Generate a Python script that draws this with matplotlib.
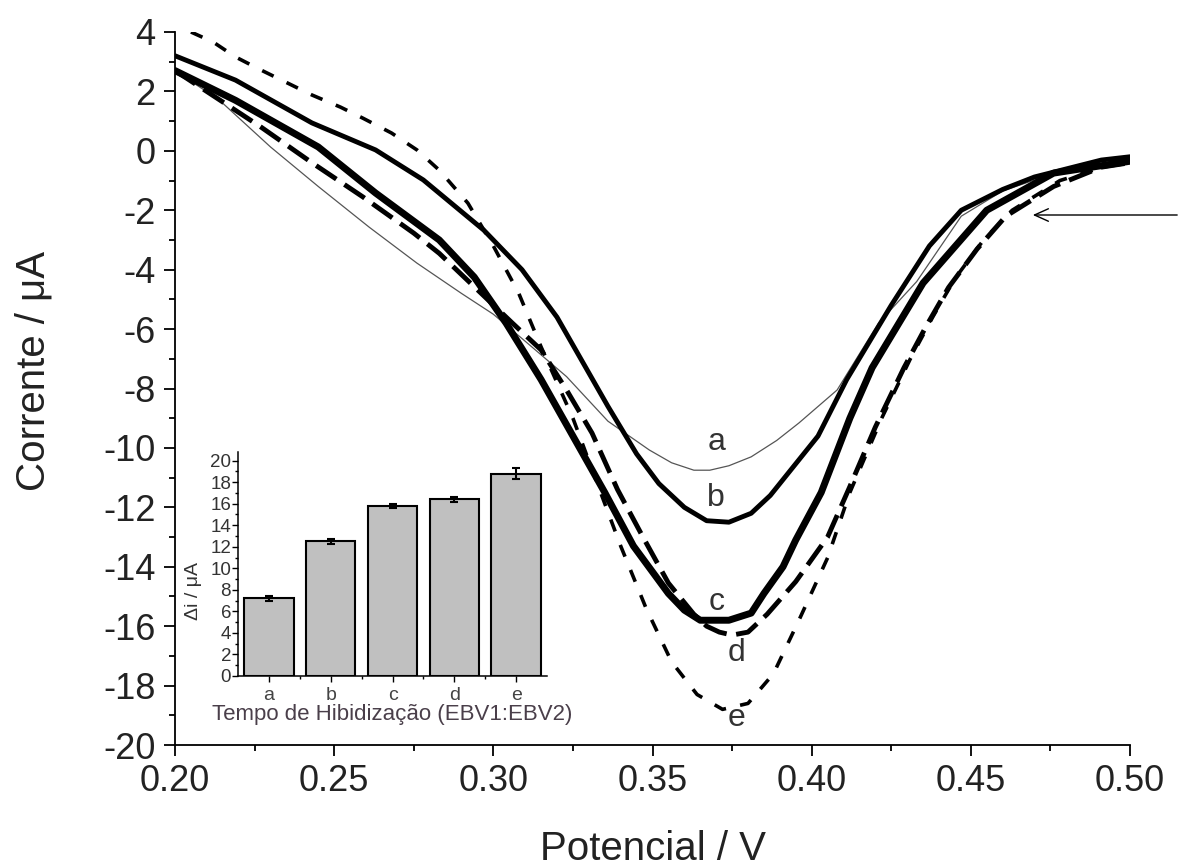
import numpy as np
import matplotlib
matplotlib.use("Agg")
import matplotlib.pyplot as plt
from matplotlib.ticker import MultipleLocator, FixedLocator, FormatStrFormatter

plt.rcParams['font.family'] = ['Liberation Sans', 'DejaVu Sans']
plt.rcParams['axes.unicode_minus'] = False

# Voltammogram curves (potential in V, current in uA)
v_a = [0.200, 0.214, 0.230, 0.245, 0.261, 0.276, 0.290, 0.300, 0.311, 0.323, 0.336, 0.349,
       0.356, 0.363, 0.368, 0.374, 0.381, 0.389, 0.396, 0.408, 0.421, 0.433, 0.447, 0.460,
       0.475, 0.490, 0.500]
i_a = [2.7, 1.7, 0.13, -1.2, -2.57, -3.78, -4.8, -5.5, -6.5, -7.6, -9.1, -10.07,
       -10.5, -10.75, -10.75, -10.6, -10.3, -9.75, -9.16, -8.05, -5.8, -4.4, -2.2, -1.35,
       -0.8, -0.45, -0.3]

v_b = [0.200, 0.219, 0.243, 0.263, 0.278, 0.297, 0.309, 0.320, 0.328, 0.336, 0.345, 0.352,
       0.360, 0.367, 0.374, 0.381, 0.387, 0.393, 0.402, 0.411, 0.425, 0.437, 0.447, 0.460,
       0.470, 0.491, 0.500]
i_b = [3.2, 2.38, 0.94, 0.03, -0.98, -2.67, -4.0, -5.6, -7.1, -8.6, -10.2, -11.2,
       -12.0, -12.45, -12.5, -12.2, -11.6, -10.8, -9.6, -7.7, -5.2, -3.2, -2.0, -1.3,
       -0.88, -0.31, -0.2]

v_c = [0.200, 0.219, 0.245, 0.263, 0.283, 0.294, 0.304, 0.315, 0.325, 0.335, 0.344, 0.355,
       0.360, 0.365, 0.374, 0.381, 0.385, 0.391, 0.395, 0.403, 0.412, 0.419, 0.435, 0.455,
       0.476, 0.497, 0.500]
i_c = [2.7, 1.7, 0.13, -1.42, -3.0, -4.25, -5.8, -7.7, -9.6, -11.5, -13.3, -14.9,
       -15.46, -15.8, -15.8, -15.56, -14.9, -14.0, -13.1, -11.5, -9.0, -7.3, -4.45, -2.0,
       -0.75, -0.4, -0.35]

v_d = [0.200, 0.227, 0.243, 0.259, 0.275, 0.283, 0.306, 0.315, 0.323, 0.331, 0.339, 0.347,
       0.355, 0.363, 0.367, 0.371, 0.375, 0.380, 0.386, 0.395, 0.405, 0.412, 0.420, 0.429,
       0.436, 0.443, 0.452, 0.461, 0.476, 0.491, 0.500]
i_d = [2.7, 0.8, -0.4, -1.55, -2.77, -3.45, -5.8, -6.7, -8.05, -9.5, -11.4, -13.0,
       -14.55, -15.6, -16.0, -16.2, -16.3, -16.2, -15.6, -14.5, -13.0, -11.3, -9.3, -7.3,
       -5.9, -4.6, -3.3, -2.2, -1.2, -0.55, -0.4]

v_e = [0.205, 0.212, 0.219, 0.227, 0.235, 0.243, 0.252, 0.259, 0.268, 0.276, 0.283, 0.292,
       0.300, 0.308, 0.315, 0.325, 0.333, 0.340, 0.348, 0.356, 0.364, 0.372, 0.380, 0.388,
       0.396, 0.405, 0.412, 0.422, 0.431, 0.438, 0.445, 0.454, 0.463, 0.478, 0.493, 0.500]
i_e = [4.0, 3.66, 3.16, 2.72, 2.3, 1.88, 1.47, 1.1, 0.6, 0.03, -0.65, -1.76,
       -3.2, -4.8, -6.6, -9.0, -11.3, -13.3, -15.4, -17.2, -18.3, -18.8, -18.6, -17.6,
       -15.8, -13.7, -11.5, -9.0, -7.0, -5.6, -4.3, -3.0, -2.0, -1.0, -0.5, -0.4]

curve_labels = ['a', 'b', 'c', 'd', 'e']
label_pos = [(0.3700, -9.8), (0.3700, -11.7), (0.3700, -15.2), (0.3765, -16.9), (0.3765, -19.1)]

# Inset bars
bar_cats = ['a', 'b', 'c', 'd', 'e']
bar_vals = [7.2, 12.5, 15.8, 16.4, 18.8]
bar_errs = [0.2, 0.2, 0.2, 0.2, 0.5]

arrow_tip = (0.4686, -2.16)
arrow_tail = (0.5157, -2.16)

fig = plt.figure(figsize=(11.81, 8.67), dpi=100)
ax = fig.add_axes([0.1482, 0.1407, 0.8086, 0.8224])

ax.plot(v_a, i_a, '-', color='#555555', lw=0.9)
ax.plot(v_b, i_b, '-', color='black', lw=3.5, solid_capstyle='round')
ax.plot(v_c, i_c, '-', color='black', lw=5.0, solid_capstyle='round')
ax.plot(v_d, i_d, '--', color='black', lw=3.5, dashes=(5, 2))
ax.plot(v_e, i_e, '--', color='black', lw=2.6, dashes=(3.5, 4))

for lab, (x, y) in zip(curve_labels, label_pos):
    ax.text(x, y, lab, fontsize=23, color='#333333', ha='center', va='center')

ax.annotate('', xy=arrow_tip, xytext=arrow_tail, annotation_clip=False,
            arrowprops=dict(arrowstyle='->,head_length=1.0,head_width=0.45', color='black', lw=1.0))

ax.set_xlim(0.2, 0.5)
ax.set_ylim(-20, 4)
ax.xaxis.set_major_locator(MultipleLocator(0.05))
ax.xaxis.set_minor_locator(MultipleLocator(0.025))
ax.yaxis.set_major_locator(MultipleLocator(2))
ax.yaxis.set_minor_locator(MultipleLocator(1))
ax.xaxis.set_major_formatter(FormatStrFormatter('%.2f'))
for side in ['top', 'right']:
    ax.spines[side].set_visible(False)
for side in ['left', 'bottom']:
    ax.spines[side].set_linewidth(1.3)
ax.tick_params(which='major', direction='out', length=8, width=1.3, labelsize=26,
               labelcolor='#222222', pad=6)
ax.tick_params(which='minor', direction='out', length=4.5, width=1.3)
ax.set_xlabel('Potencial / V', fontsize=29, color='#222222', labelpad=22)
ax.set_ylabel('Corrente / μA', fontsize=29, color='#222222')
ax.yaxis.set_label_coords(-0.128, 0.525)

# Inset
ins = fig.add_axes([0.2015, 0.2203, 0.2617, 0.2584])
ins.set_facecolor('white')
xpos = np.arange(1, len(bar_cats) + 1)
ins.bar(xpos, bar_vals, width=0.8, color='#c0c0c0', edgecolor='black', linewidth=1.5,
        yerr=bar_errs, capsize=3, error_kw=dict(ecolor='black', elinewidth=1.5, capthick=1.5))
ins.set_xlim(0.5, 5.5)
ins.set_ylim(0, 20.8)
ins.set_xticks(xpos)
ins.set_xticklabels(bar_cats)
ins.xaxis.set_minor_locator(FixedLocator(xpos[:-1] + 0.5))
ins.yaxis.set_major_locator(MultipleLocator(2))
ins.yaxis.set_minor_locator(MultipleLocator(1))
for side in ['top', 'right']:
    ins.spines[side].set_visible(False)
for side in ['left', 'bottom']:
    ins.spines[side].set_linewidth(1.1)
ins.tick_params(axis='y', which='major', direction='out', length=4, width=1.0, labelsize=13.5,
                labelcolor='#333333', pad=1)
ins.tick_params(axis='x', which='major', direction='out', length=4, width=1.0, labelsize=14,
                labelcolor='#444444', pad=4)
ins.tick_params(which='minor', direction='out', length=2.5, width=1.0)
ins.set_xlabel('Tempo de Hibidização (EBV1:EBV2)', fontsize=16, color='#4a3f4a', labelpad=0)
ins.set_ylabel('Δi / μA', fontsize=14, color='#333333')
ins.yaxis.set_label_coords(-0.117, 0.38)

fig.savefig('out.png', dpi=100)
